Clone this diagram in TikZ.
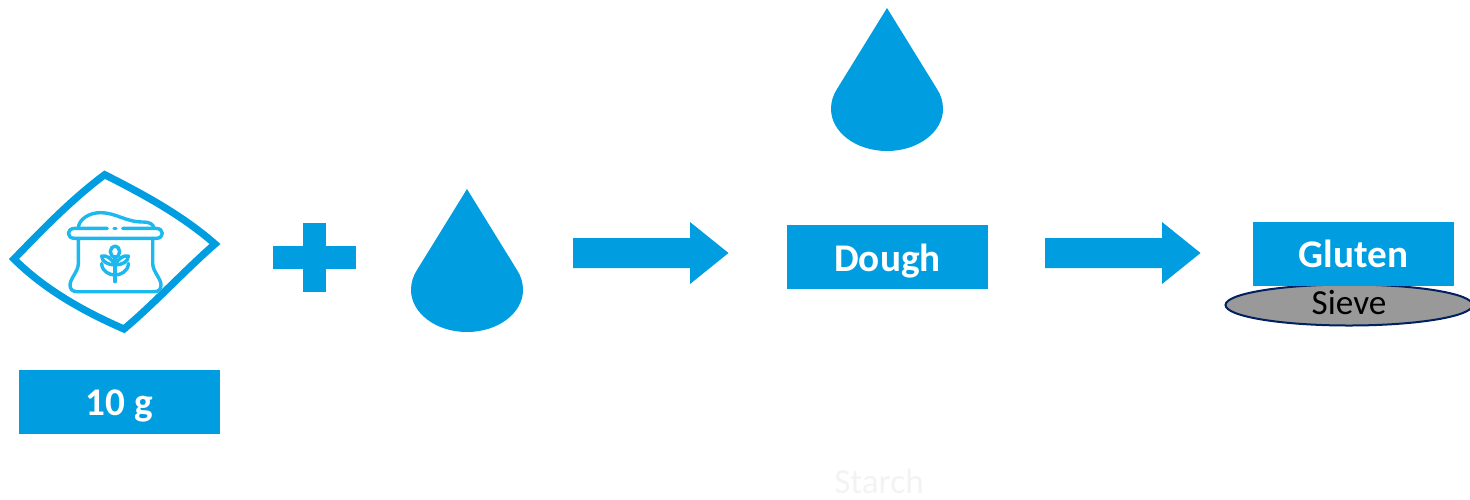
\documentclass[tikz,border=0pt]{standalone}
\usepackage{fontspec}
\setmainfont{Carlito}
\usepackage{xcolor}
\usetikzlibrary{positioning,shapes.geometric}
\definecolor{flowblue}{RGB}{0,158,224}
\definecolor{bagblue}{RGB}{28,184,238}
\definecolor{sievegray}{RGB}{153,153,153}
\definecolor{sievenavy}{RGB}{0,32,96}
\definecolor{starchgray}{RGB}{243,243,243}
\tikzset{
  labelbox/.style={fill=flowblue, minimum width=100.5pt, minimum height=32pt,
    inner sep=0pt, text height=13pt, text depth=0pt, text=white,
    font=\fontsize{19.6}{19.6}\selectfont\bfseries},
  bagline/.style={draw=bagblue, line width=1.7pt, line cap=round, line join=round},
  waterdrop/.pic={
    \fill[flowblue] (0,0) -- (50,81) .. controls (54,87) and (56,94) .. (56,101)
      .. controls (56,124) and (31,143) .. (0,143)
      .. controls (-31,143) and (-56,124) .. (-56,101)
      .. controls (-56,94) and (-54,87) .. (-50,81) -- cycle;
  },
  blockarrow/.pic={
    \fill[flowblue] (0,-15) -- (117,-15) -- (117,-31) -- (155.5,0) -- (117,31)
      -- (117,15) -- (0,15) -- cycle;
  }
}
\begin{document}
\begin{tikzpicture}[x=0.5pt, y=-0.5pt]
    \useasboundingbox (0,0) rectangle (1470,499);
    % flour bag
    \draw[flowblue, line width=3.6pt, line join=miter] (104.7,174.7)
      .. controls (145,195) and (183,216) .. (215,244)
      .. controls (185,270) and (155,303) .. (124,329)
      .. controls (85,312) and (45,290) .. (14,259)
      .. controls (42,230) and (72,199) .. (104.7,174.7) -- cycle;
    \begin{scope}[shift={(0,160)}, x=0.1667pt, y=-0.1667pt]
      \draw[bagline] (322,205) -- (225,205) .. controls (212,205) and (205,212) .. (205,220)
        .. controls (205,229) and (212,235) .. (225,235) -- (467,235)
        .. controls (480,235) and (487,229) .. (487,220)
        .. controls (487,212) and (480,205) .. (467,205) -- (368,205);
      \draw[bagline] (342,205) -- (348,205);
      \draw[bagline] (235,205) .. controls (235,178) and (268,158) .. (300,158)
        .. controls (350,158) and (375,186) .. (430,186)
        .. controls (448,186) and (460,192) .. (462,205);
      \draw[bagline] (235,235) -- (235,310) .. controls (235,335) and (210,355) .. (210,375)
        .. controls (210,388) and (218,395) .. (232,395) -- (462,395)
        .. controls (476,395) and (483,388) .. (483,375)
        .. controls (483,355) and (458,335) .. (458,310) -- (458,235);
      \draw[bagline] (345,290) -- (345,365);
      \draw[bagline] (345,275) ellipse (14 and 17);
      \draw[bagline] (345,315) .. controls (335,295) and (320,285) .. (305,288)
        .. controls (305,305) and (325,315) .. (345,315);
      \draw[bagline] (345,315) .. controls (355,295) and (370,285) .. (385,288)
        .. controls (385,305) and (365,315) .. (345,315);
      \draw[bagline] (345,345) .. controls (330,345) and (305,335) .. (305,310);
      \draw[bagline] (345,345) .. controls (360,345) and (385,335) .. (385,310);
    \end{scope}
    \node[labelbox] (flour) at (119.5,402) {10 g};
    % plus sign and water
    \fill[flowblue] (273,246) rectangle (356,269);
    \fill[flowblue] (303,223) rectangle (326,292);
    \pic at (467,189) {waterdrop};
    \pic at (573,253) {blockarrow};
    \node[labelbox, text height=14pt] (dough) at (887.5,257) {Dough};
    \pic at (887,8) {waterdrop};
    \pic at (1045,253) {blockarrow};
    % sieve goes under the box
    \node[ellipse, draw=sievenavy, fill=sievegray, line width=1pt, minimum width=123.5pt,
      minimum height=20.5pt, inner sep=0pt] (sieve) at (1349,305) {};
    \node[labelbox] (gluten) at (1353.5,254) {Gluten};
    \node[font=\fontsize{17.6}{17.6}\selectfont, text=black] (sievetext) at (1349,303) {Sieve};
    \node[font=\fontsize{17.6}{17.6}\selectfont, text=starchgray, inner sep=0pt] (starch) at (879,481) {Starch};
\end{tikzpicture}
\end{document}
